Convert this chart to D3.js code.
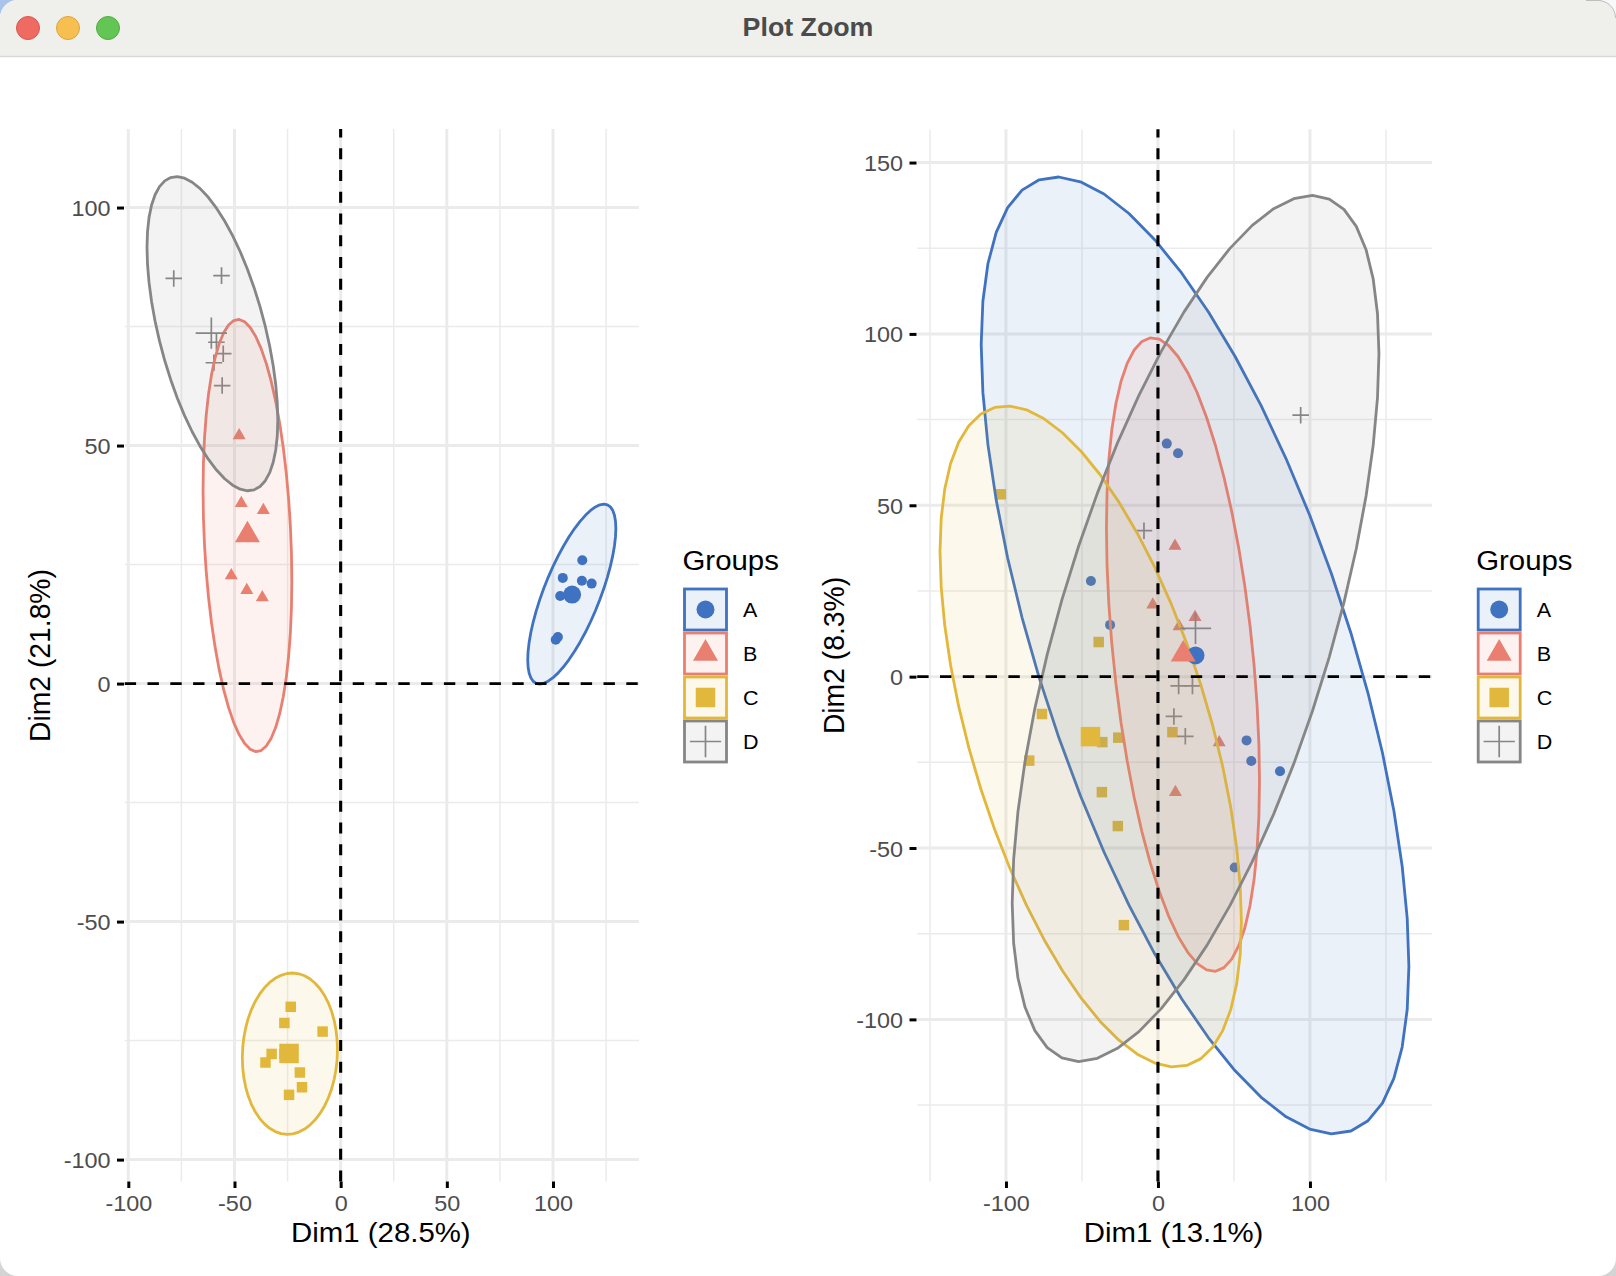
<!DOCTYPE html>
<html><head><meta charset="utf-8">
<script src="https://cdn.jsdelivr.net/npm/d3@7"></script>
<style>html,body{margin:0;padding:0;background:#fff}svg{display:block}text{font-family:"Liberation Sans",Arial,sans-serif}</style>
</head><body><div id="chart"></div>
<script>
// ---------- data ----------
const groups = ["A","B","C","D"];
const groupColors = ["#3F72C0","#E97F70","#E2B83C","#868686"];

const leftTicksX = [-100,-50,0,50,100];
const leftTicksY = [-100,-50,0,50,100];
const leftMinorX = [-75,-25,25,75,125];
const leftMinorY = [-75,-25,25,75];
const leftDomainX = [-101.7,140.5];
const leftDomainY = [-104.6,116.5];

const rightTicksX = [-100,0,100];
const rightTicksY = [-100,-50,0,50,100,150];
const rightMinorX = [-150,-50,50,150];
const rightMinorY = [-125,-75,-25,25,75,125];
const rightDomainX = [-158.4,180.3];
const rightDomainY = [-147.3,159.7];

const leftA = [[113.8,25.9],[104.6,22.2],[113.6,21.6],[118.2,21.0],[103.4,18.4],[102.3,9.8],[101.3,9.2]];
const leftB = [[-47.8,52.1],[-46.8,37.9],[-36.4,36.4],[-51.5,22.7],[-44.2,19.6],[-36.9,18.1]];
const leftC = [[-23.5,-67.9],[-26.5,-71.3],[-8.5,-73.1],[-32.5,-77.8],[-35.4,-79.6],[-26.5,-77.8],[-19.2,-81.7],[-18.2,-84.8],[-24.3,-86.4]];
const leftD = [[-78.6,85.1],[-56.1,85.7],[-58.5,71.7],[-55.3,69.3],[-59.7,67.4],[-55.8,62.6]];
const leftCentroids = [[109,18.7],[-43.9,31.2],[-24.3,-77.7],[-60.9,73.6]];

const rightA = [[5.8,68.0],[13.2,65.2],[-44.1,27.9],[-31.5,15.1],[58.3,-18.6],[61.4,-24.6],[80.3,-27.6],[50.5,-55.7]];
const rightB = [[11.2,38.1],[-3.4,21.0],[24.4,17.3],[13.9,14.6],[40.3,-19.2],[11.5,-33.7]];
const rightC = [[-103.4,53.2],[-39,10.1],[-76.3,-10.9],[-36.6,-19.1],[-26.1,-17.8],[9.5,-16.2],[-84.7,-24.5],[-36.9,-33.7],[-26.4,-43.6],[-22.4,-72.5]];
const rightD = [[93.9,76.3],[-9.2,42.6],[13.6,-2.7],[22.7,-2.7],[10.5,-11.6],[18,-17.4]];
const rightCentroids = [[24.7,6.2],[16.6,6.5],[-44.4,-17.5],[24.7,14.1]];

// ellipses: centre, half-extent in x and y, correlation (A,B,C,D)
const leftEllipseCx = [108.85,-43.9,-23.9,-60.4];
const leftEllipseCy = [18.8,31.1,-77.75,73.5];
const leftEllipseRx = [20.75,20.9,22.4,30.8];
const leftEllipseRy = [18.9,45.4,16.95,33.0];
const leftEllipseR  = [0.73,-0.21,0.05,-0.55];

const rightEllipseCx = [24.4,16.45,-44.25,24.75];
const rightEllipseCy = [6.2,6.45,-17.45,14.05];
const rightEllipseRx = [140.7,50.35,99.15,120.65];
const rightEllipseRy = [139.6,92.45,96.45,126.35];
const rightEllipseR  = [-0.65,-0.40,-0.56,0.635];

// ---------- page ----------
const W = 1616, H = 1276;
const stretch = 1.05; // the reference's text is slightly wider than tall
const svg = d3.select("#chart").append("svg").attr("width",W).attr("height",H).attr("viewBox",`0 0 ${W} ${H}`);

// window chrome
svg.append("rect").attr("width",W).attr("height",H).attr("fill","#D4D4D4");
svg.append("rect").attr("width",W).attr("height",60).attr("fill","#F8F8F8");
svg.append("rect").attr("width",40).attr("height",60).attr("fill","#A9C4EA");
svg.append("rect").attr("width",W).attr("height",H).attr("rx",18).attr("fill","#fff");
svg.append("path").attr("d",`M0,56V18A18,18 0 0 1 18,0H${W-18}A18,18 0 0 1 ${W},18V56Z`).attr("fill","#EFEFEB");
svg.append("path").attr("d",`M${W-30},0.5H${W-18}A17.5,17.5 0 0 1 ${W-0.5},18`).attr("fill","none").attr("stroke","#BDBDBD").attr("stroke-width",1);
svg.append("line").attr("x1",0).attr("x2",W).attr("y1",56.5).attr("y2",56.5).attr("stroke","#D9D9D7").attr("stroke-width",1.5);
[["#EF6B61","#D9574E",28],["#F6BF50","#DDA53E",68],["#62C554","#52AC45",108]].forEach(([f,s,x])=>{
  svg.append("circle").attr("cx",x).attr("cy",28).attr("r",11.5).attr("fill",f).attr("stroke",s).attr("stroke-width",1);
});
svg.append("text").attr("transform",`translate(808,36) scale(${stretch},1)`).attr("text-anchor","middle").attr("font-size",25.5).attr("font-weight",700).attr("fill","#4B4B4B").text("Plot Zoom");

const symFns = {
  A: size=>d3.symbol(d3.symbolCircle,size)(),
  B: size=>d3.symbol(d3.symbolTriangle,size)(),
  C: size=>d3.symbol(d3.symbolSquare,size)(),
  D: size=>d3.symbol(d3.symbolPlus,size)()
};
const smallSize = {A:79,B:73,C:110,D:91};
const bigSize = {A:254,B:270,C:380,D:321};

function drawMark(g,name,x,y,color,size){
  const plus = name==="D";
  g.append("path").attr("d",symFns[name](size)).attr("transform",`translate(${x},${y})`)
    .attr("fill",plus?"none":color).attr("stroke",plus?color:"none").attr("stroke-width",plus?1.7:0);
}
function hText(g,x,y,size,txt,anchor){
  g.append("text").attr("transform",`translate(${x},${y}) scale(${stretch},1)`).attr("text-anchor",anchor||"start")
    .attr("font-size",size).attr("fill","#000").text(txt);
}

function panel(cfg){
  const g = svg.append("g");
  const x = d3.scaleLinear().domain(cfg.domX).range(cfg.rangeX);
  const y = d3.scaleLinear().domain(cfg.domY).range(cfg.rangeY);
  const grid = g.append("g").attr("stroke","#EBEBEB").attr("fill","none");
  cfg.minorY.forEach(v=>grid.append("line").attr("x1",cfg.rangeX[0]).attr("x2",cfg.rangeX[1]).attr("y1",y(v)).attr("y2",y(v)).attr("stroke-width",1.5));
  cfg.minorX.forEach(v=>grid.append("line").attr("y1",cfg.rangeY[0]).attr("y2",cfg.rangeY[1]).attr("x1",x(v)).attr("x2",x(v)).attr("stroke-width",1.5));
  cfg.ticksY.forEach(v=>grid.append("line").attr("x1",cfg.rangeX[0]).attr("x2",cfg.rangeX[1]).attr("y1",y(v)).attr("y2",y(v)).attr("stroke-width",3));
  cfg.ticksX.forEach(v=>grid.append("line").attr("y1",cfg.rangeY[0]).attr("y2",cfg.rangeY[1]).attr("x1",x(v)).attr("x2",x(v)).attr("stroke-width",3));

  // points below the ellipses
  const pts = g.append("g");
  groups.forEach((n,i)=>cfg.points[i].forEach(p=>drawMark(pts,n,x(p[0]),y(p[1]),groupColors[i],smallSize[n])));

  // ellipses (51-vertex outline, x = cx + rx cos t, y = cy + ry cos(t - phi))
  const line = d3.line().x(d=>x(d[0])).y(d=>y(d[1]));
  groups.forEach((n,i)=>{
    const phi = Math.acos(cfg.el.r[i]);
    const outline = d3.range(51).map(k=>{
      const t = 2*Math.PI*k/50;
      return [cfg.el.cx[i]+cfg.el.rx[i]*Math.cos(t), cfg.el.cy[i]+cfg.el.ry[i]*Math.cos(t-phi)];
    });
    g.append("path").attr("d",line(outline)+"Z").attr("fill",groupColors[i]).attr("fill-opacity",0.1)
      .attr("stroke",groupColors[i]).attr("stroke-width",2.8).attr("stroke-linejoin","round");
  });

  // centroids
  groups.forEach((n,i)=>drawMark(g,n,x(cfg.centroids[i][0]),y(cfg.centroids[i][1]),groupColors[i],bigSize[n]));

  // reference lines
  g.append("line").attr("x1",cfg.rangeX[0]).attr("x2",cfg.rangeX[1]).attr("y1",y(0)).attr("y2",y(0))
    .attr("stroke","#000").attr("stroke-width",2.8).attr("stroke-dasharray","11.4 11.4");
  g.append("line").attr("y1",cfg.rangeY[0]).attr("y2",cfg.rangeY[1]).attr("x1",x(0)).attr("x2",x(0))
    .attr("stroke","#000").attr("stroke-width",3.1).attr("stroke-dasharray","10.9 10.85");

  // axes
  const ax = g.append("g").attr("transform",`translate(0,${cfg.rangeY[0]})`)
    .call(d3.axisBottom(x).tickValues(cfg.ticksX).tickSize(6.5).tickFormat(String));
  const ay = g.append("g").attr("transform",`translate(${cfg.rangeX[0]},0)`)
    .call(d3.axisLeft(y).tickValues(cfg.ticksY).tickSize(7).tickFormat(String));
  [ax,ay].forEach(a=>{
    a.select(".domain").remove();
    a.selectAll("line").attr("stroke","#000").attr("stroke-width",3);
    a.selectAll("text").attr("fill","#4D4D4D").attr("font-size",22.3).attr("font-family",'"Liberation Sans",Arial,sans-serif');
  });
  ax.selectAll("text").attr("x",0).attr("y",0).attr("dy",0).attr("transform",`translate(0,29.5) scale(${stretch},1)`);
  ay.selectAll("line").attr("transform","translate(-0.7,0)");
  ay.selectAll("text").attr("x",0).attr("dy","0.36em").attr("transform",`translate(${cfg.yTickEnd-cfg.rangeX[0]},0) scale(${stretch},1)`);

  hText(g,(cfg.rangeX[0]+cfg.rangeX[1])/2-1,1241.5,28,cfg.xTitle,"middle");
  g.append("text").attr("transform",`translate(${cfg.yTitleX},655.5) rotate(-90) scale(1,${stretch})`).attr("text-anchor","middle")
    .attr("font-size",28.3).attr("fill","#000").text(cfg.yTitle);

  // legend
  const lg = g.append("g").attr("transform",`translate(${cfg.legendDx},0)`);
  hText(lg,682.5,570,28,"Groups");
  const keyTop = [589,633,677,721], keyH = 41;
  groups.forEach((n,i)=>{
    lg.append("rect").attr("x",684.5).attr("y",keyTop[i]).attr("width",42).attr("height",keyH)
      .attr("fill",groupColors[i]).attr("fill-opacity",0.1).attr("stroke",groupColors[i]).attr("stroke-width",2.8);
    drawMark(lg,n,705.5,keyTop[i]+keyH/2,groupColors[i],bigSize[n]);
    hText(lg,743,keyTop[i]+keyH/2+7.5,20.5,n);
  });
}

panel({
  domX:leftDomainX, domY:leftDomainY, rangeX:[124.7,639], rangeY:[1181.5,129],
  ticksX:leftTicksX, ticksY:leftTicksY, minorX:leftMinorX, minorY:leftMinorY,
  points:[leftA,leftB,leftC,leftD], centroids:leftCentroids,
  el:{cx:leftEllipseCx,cy:leftEllipseCy,rx:leftEllipseRx,ry:leftEllipseRy,r:leftEllipseR},
  xTitle:"Dim1 (28.5%)", yTitle:"Dim2 (21.8%)", yTitleX:49.5, yTickEnd:110.5, legendDx:0
});
panel({
  domX:rightDomainX, domY:rightDomainY, rangeX:[917.2,1432], rangeY:[1181.5,129.3],
  ticksX:rightTicksX, ticksY:rightTicksY, minorX:rightMinorX, minorY:rightMinorY,
  points:[rightA,rightB,rightC,rightD], centroids:rightCentroids,
  el:{cx:rightEllipseCx,cy:rightEllipseCy,rx:rightEllipseRx,ry:rightEllipseRy,r:rightEllipseR},
  xTitle:"Dim1 (13.1%)", yTitle:"Dim2 (8.3%)", yTitleX:843.5, yTickEnd:903, legendDx:793.7
});
</script></body></html>
